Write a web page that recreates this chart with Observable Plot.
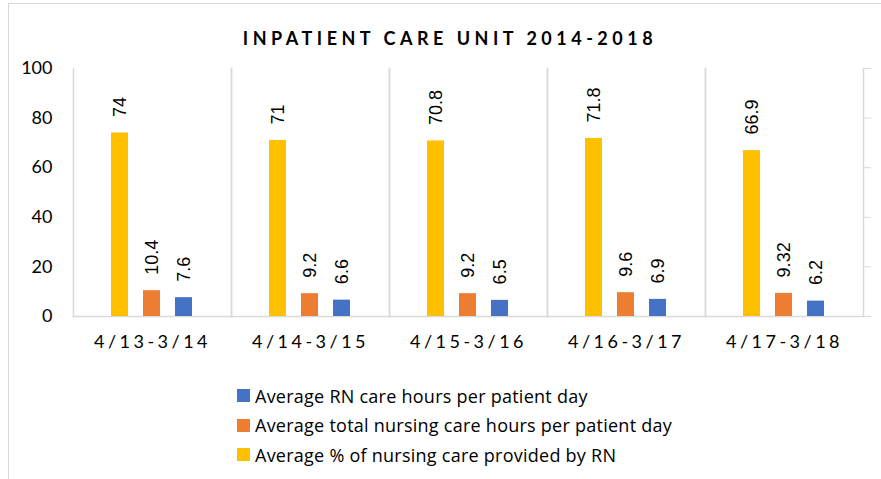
<!DOCTYPE html>
<html><head><meta charset="utf-8">
<script src="https://cdn.jsdelivr.net/npm/d3@7"></script>
<script src="https://cdn.jsdelivr.net/npm/@observablehq/plot@0.6"></script>
<style>
body{margin:0;background:#fff;overflow:hidden;width:881px;height:479px;position:relative;font-family:Lato,sans-serif;color:#000;}
#border{position:absolute;left:8px;top:3px;width:1000px;height:1000px;border:1px solid #d9d9d9;}
#title{position:absolute;top:27px;left:0;width:900px;text-align:center;font-weight:bold;font-size:18px;letter-spacing:4.5px;color:#000;line-height:22px;}
#chart{position:absolute;left:0;top:50px;}
#legend{position:absolute;left:237px;top:381px;font-size:18px;letter-spacing:0.25px;font-family:"Open Sans",sans-serif;}
.item{display:flex;align-items:center;height:29.5px;}
.sw{width:13px;height:13px;margin-right:5px;}
svg g[aria-label="fx-axis tick label"] text{letter-spacing:3.5px;}
</style>
</head><body>
<div id="border"></div>
<div id="title">INPATIENT CARE UNIT 2014-2018</div>
<div id="chart"></div>
<div id="legend"></div>
<script>
const categories = ["4/13-3/14","4/14-3/15","4/15-3/16","4/16-3/17","4/17-3/18"];
const pctByRN = [74, 71, 70.8, 71.8, 66.9];
const totalHours = [10.4, 9.2, 9.2, 9.6, 9.32];
const rnHours = [7.6, 6.6, 6.5, 6.9, 6.2];
const seriesNames = [
  "Average % of nursing care provided by RN",
  "Average total nursing care hours per patient day",
  "Average RN care hours per patient day"
];
const seriesColors = ["#FFC000", "#ED7D31", "#4472C4"];
const legendOrder = [
  "Average RN care hours per patient day",
  "Average total nursing care hours per patient day",
  "Average % of nursing care provided by RN"
];
const yTicks = [0, 20, 40, 60, 80, 100];

const seriesValues = [pctByRN, totalHours, rnHours];
const rows = [];
categories.forEach((c, i) => {
  seriesNames.forEach((s, j) => rows.push({cat: c, series: s, value: seriesValues[j][i]}));
});

const chart = Plot.plot({
  width: 881, height: 306,
  marginLeft: 71, marginRight: 16, marginTop: 18, marginBottom: 40,
  fx: {domain: categories, padding: 0, label: null, axis: null},
  x: {domain: seriesNames, paddingInner: 0.4545, paddingOuter: 1.133, axis: null},
  y: {domain: [0, 100], axis: null},
  color: {domain: seriesNames, range: seriesColors},
  style: {fontFamily: "Lato, sans-serif", fontSize: "18px", color: "#000", background: "transparent"},
  marks: [
    Plot.frame({anchor: "left", stroke: "#d9d9d9", strokeWidth: 1.5}),
    Plot.frame({anchor: "right", stroke: "#d9d9d9", strokeWidth: 1.5}),
    Plot.frame({anchor: "bottom", stroke: "#d9d9d9", strokeWidth: 1.5}),
    Plot.axisY(yTicks, {anchor: "left", tickSize: 0, tickPadding: 21, fontSize: 18, label: null}),
    Plot.axisY(yTicks, {anchor: "right", tickSize: 7, tickFormat: () => "", stroke: "#d9d9d9", label: null}),
    Plot.axisFx({anchor: "bottom", tickSize: 0, tickPadding: 19, label: null, fontSize: 18}),
    Plot.barY(rows, {fx: "cat", x: "series", y: "value", fill: "series"}),
    Plot.text(rows, {fx: "cat", x: "series", y: "value", text: d => String(d.value),
      rotate: -90, textAnchor: "start", lineAnchor: "middle", dy: -16, fontSize: 18,
      fontFamily: "'Liberation Sans', Arial, sans-serif", fill: "#000"})
  ]
});
document.getElementById("chart").appendChild(chart);

const legend = document.getElementById("legend");
legendOrder.forEach(name => {
  const item = document.createElement("div");
  item.className = "item";
  const sw = document.createElement("div");
  sw.className = "sw";
  sw.style.background = seriesColors[seriesNames.indexOf(name)];
  const t = document.createElement("span");
  t.textContent = name;
  item.appendChild(sw); item.appendChild(t);
  legend.appendChild(item);
});
</script>
</body></html>
